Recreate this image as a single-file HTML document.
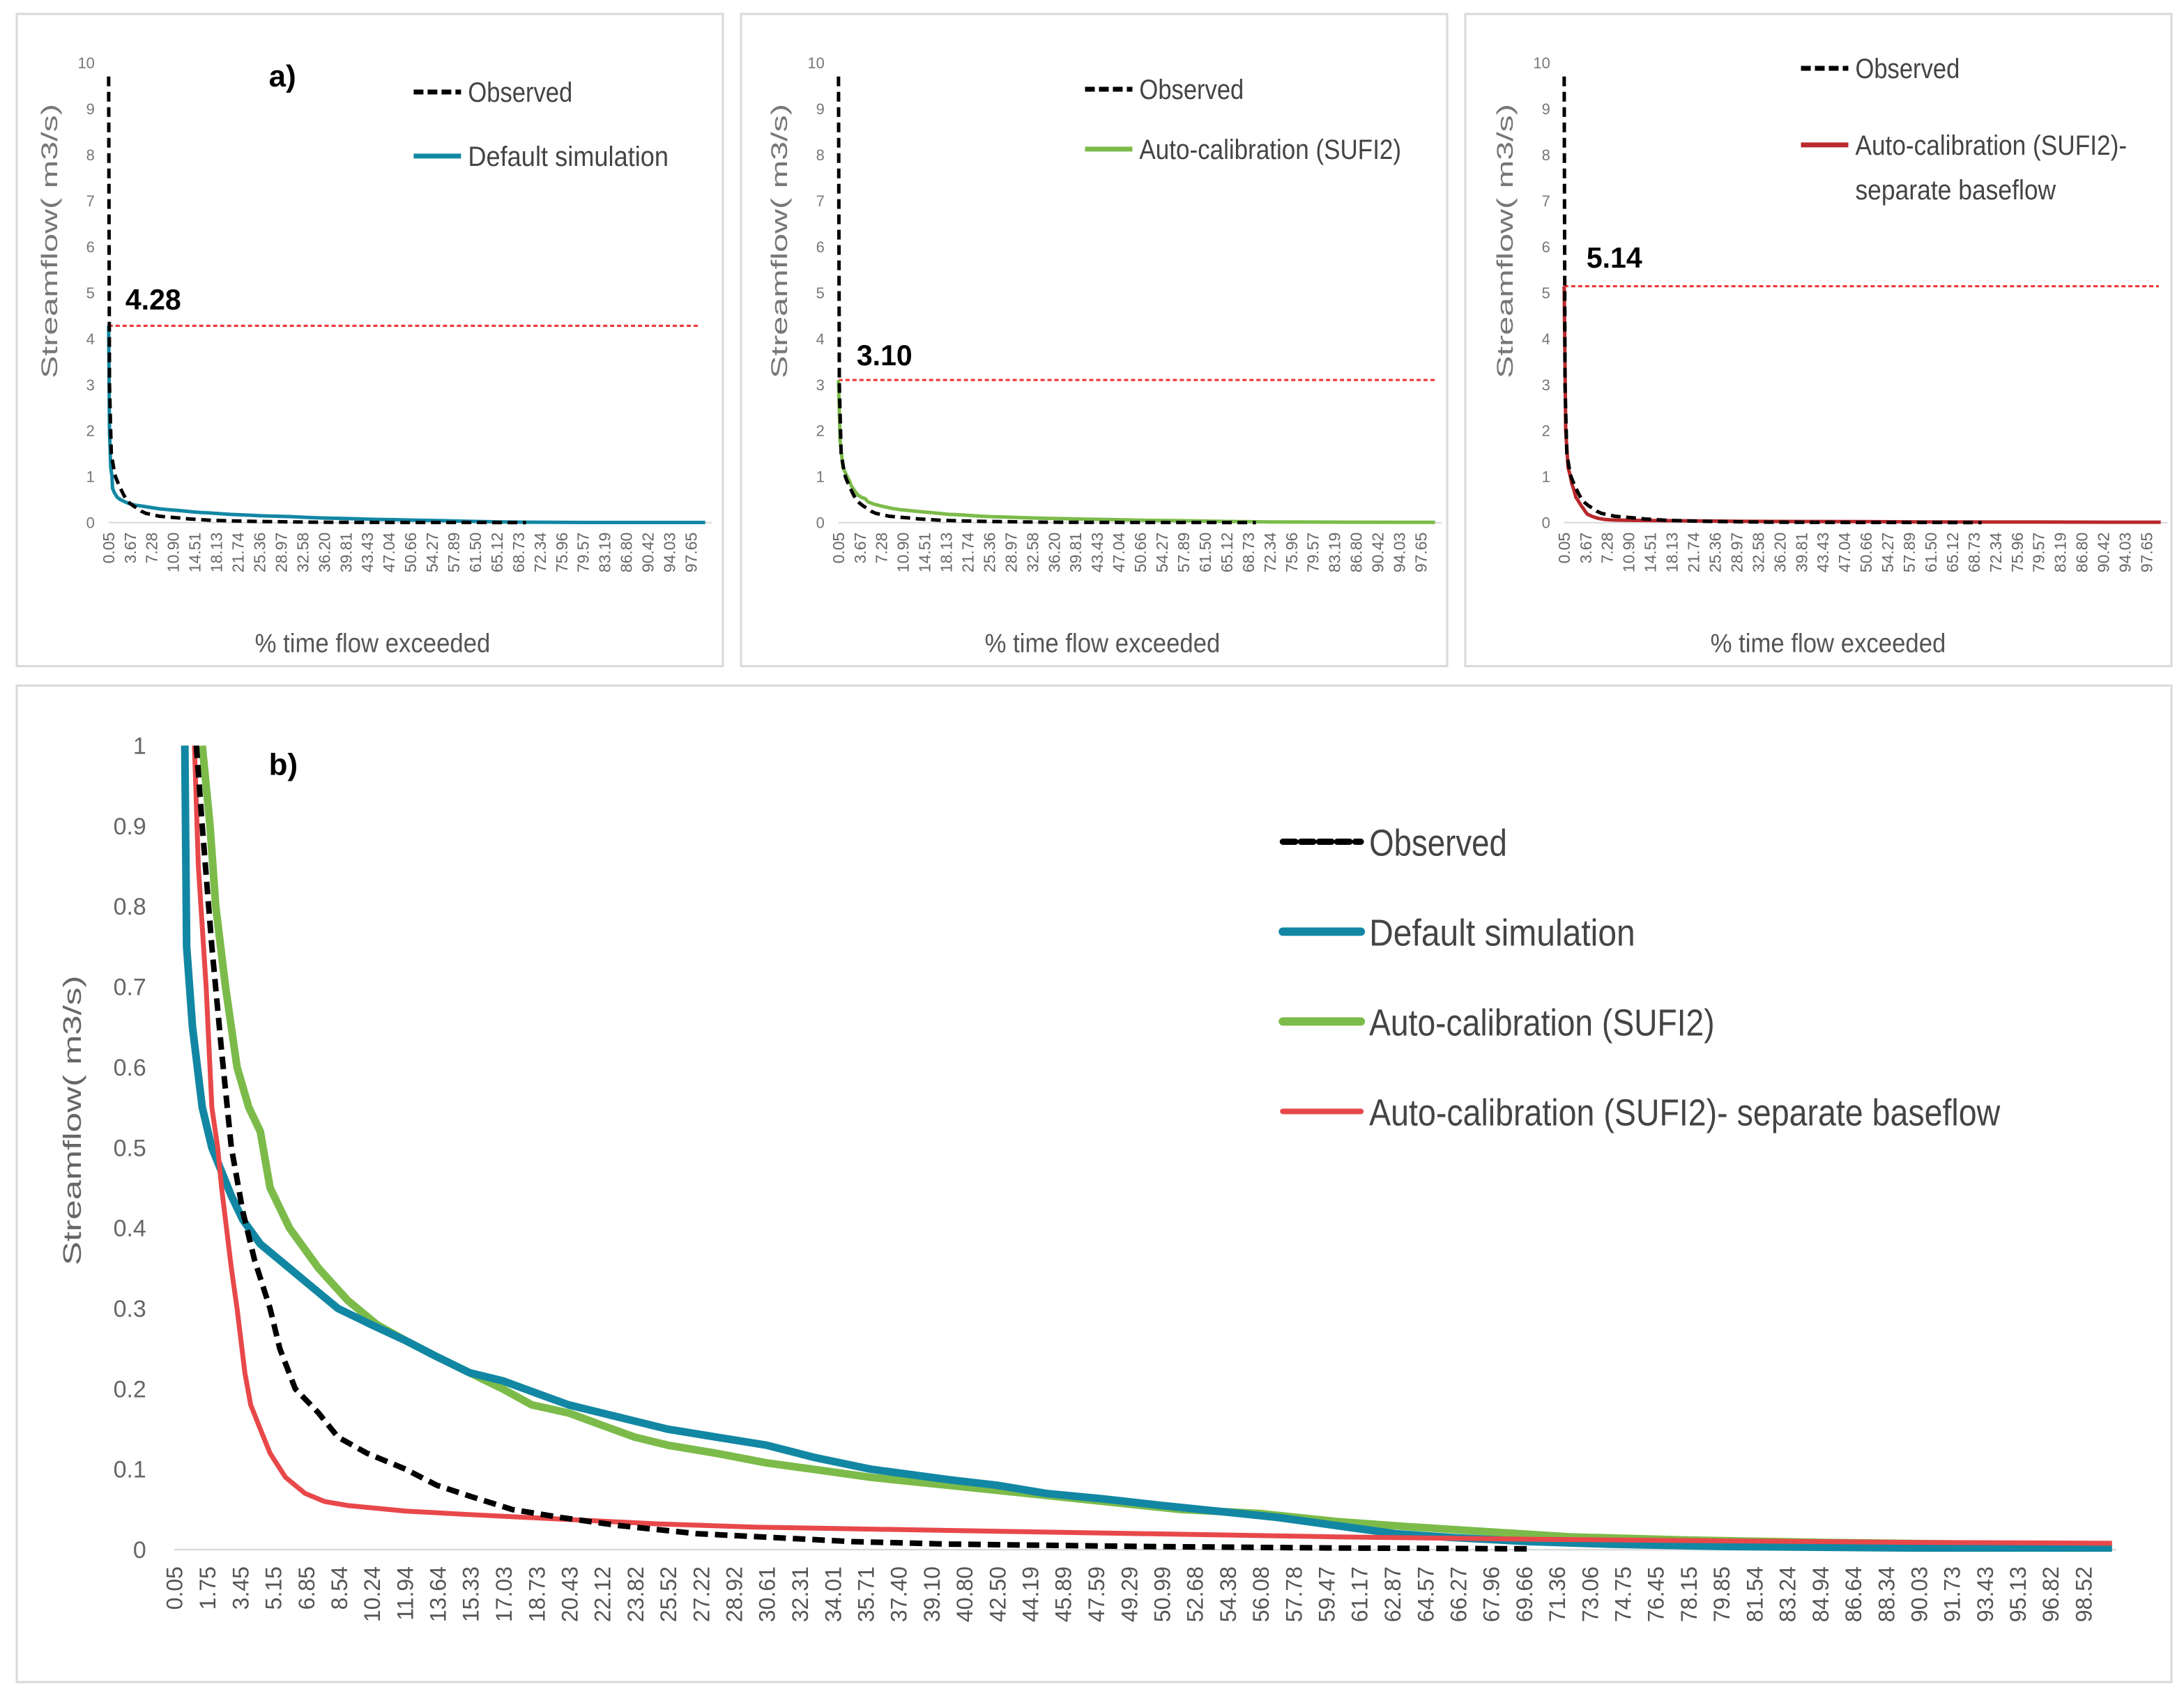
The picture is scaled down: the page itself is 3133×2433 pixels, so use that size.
<!DOCTYPE html>
<html><head><meta charset="utf-8"><style>
html,body{margin:0;padding:0;background:#fff}
svg{display:block}
text{font-family:"Liberation Sans Narrow","Liberation Sans",sans-serif}
</style></head><body>
<svg id="fig" xmlns="http://www.w3.org/2000/svg" width="3133" height="2433" viewBox="0 0 1568 1217" preserveAspectRatio="none">
<rect x="0" y="0" width="1568" height="1217" fill="#fff"/>
<rect x="12" y="10" width="507" height="468" fill="none" stroke="#d9d9d9" stroke-width="1.5"/>
<rect x="532" y="10" width="507" height="468" fill="none" stroke="#d9d9d9" stroke-width="1.5"/>
<rect x="1052" y="10" width="507" height="468" fill="none" stroke="#d9d9d9" stroke-width="1.5"/>
<rect x="12" y="492" width="1547" height="715" fill="none" stroke="#d9d9d9" stroke-width="1.5"/>
<g id="layer"></g>
</svg>
<script>
// ---- data (percent exceeded, flow m3/s) ----
const obsP = [1.2,1.5,2,2.5,3,3.6,4.2,5,5.5,6.3,7.5,8.5,10,12,13.6,15.5,17.5,20,23,27,31,35,40,50,60,70];
const obsQ = [1.0,0.9,0.75,0.62,0.5,0.42,0.36,0.3,0.25,0.2,0.17,0.14,0.12,0.1,0.08,0.065,0.05,0.04,0.03,0.02,0.015,0.01,0.007,0.004,0.002,0.001];
const defP = [0.6,0.7,1,1.5,2,3,3.6,4.5,5.5,7,8.5,10.2,12,13.6,15.3,17,18.7,20.4,22.1,23.8,25.5,28,30.6,33,36,40,42.5,45,48,51,55,57,60,63,66,70,74,80,90,100];
const defQ = [1.0,0.75,0.65,0.55,0.5,0.44,0.41,0.38,0.36,0.33,0.3,0.28,0.26,0.24,0.22,0.21,0.195,0.18,0.17,0.16,0.15,0.14,0.13,0.115,0.1,0.087,0.08,0.07,0.063,0.055,0.045,0.04,0.03,0.02,0.015,0.01,0.007,0.004,0.002,0.002];
const sufP = [1.5,1.9,2.2,2.7,3.3,3.9,4.5,5,6,7.5,9,10.5,12,13.6,15.3,17,18.5,20.4,22.1,23.8,25.5,28,30.6,33,36,40,44,48,52,56,60,64,68,72,78,85,95,100];
const sufQ = [1.0,0.9,0.8,0.7,0.6,0.55,0.52,0.45,0.4,0.35,0.31,0.28,0.26,0.24,0.22,0.2,0.18,0.17,0.155,0.14,0.13,0.12,0.108,0.1,0.09,0.08,0.07,0.06,0.05,0.045,0.035,0.028,0.022,0.016,0.012,0.009,0.006,0.005];
const sepP = [1.1,1.3,1.7,2,2.3,2.5,3,3.3,3.7,4,4.5,5,5.8,6.8,7.8,9,12,15,20,25,30,40,50,60,70,80,90,100];
const sepQ = [1.0,0.85,0.7,0.55,0.5,0.45,0.35,0.3,0.22,0.18,0.15,0.12,0.09,0.07,0.06,0.055,0.048,0.044,0.038,0.032,0.028,0.024,0.02,0.016,0.013,0.011,0.009,0.008];
// high-flow heads for panels a (percent, flow)
const obsHeadP = [0.05,0.2,0.5,1.0];
const obsHeadQ = [9.7,3.0,1.5,1.1];
const defHeadP = [0.05,0.2,0.4];
const defHeadQ = [4.28,2.0,1.2];
const sufHeadP = [0.05,0.3,0.8];
const sufHeadQ = [3.10,1.8,1.2];
const sepHeadP = [0.05,0.3,0.7];
const sepHeadQ = [5.14,2.0,1.2];
const peakVals = [4.28,3.10,5.14];
const ticksA = ["0.05","3.67","7.28","10.90","14.51","18.13","21.74","25.36","28.97","32.58","36.20","39.81","43.43","47.04","50.66","54.27","57.89","61.50","65.12","68.73","72.34","75.96","79.57","83.19","86.80","90.42","94.03","97.65"];
const ticksB = ["0.05","1.75","3.45","5.15","6.85","8.54","10.24","11.94","13.64","15.33","17.03","18.73","20.43","22.12","23.82","25.52","27.22","28.92","30.61","32.31","34.01","35.71","37.40","39.10","40.80","42.50","44.19","45.89","47.59","49.29","50.99","52.68","54.38","56.08","57.78","59.47","61.17","62.87","64.57","66.27","67.96","69.66","71.36","73.06","74.75","76.45","78.15","79.85","81.54","83.24","84.94","86.64","88.34","90.03","91.73","93.43","95.13","96.82","98.52"];
const yTicksA = [0,1,2,3,4,5,6,7,8,9,10];
const yTicksB = ["0","0.1","0.2","0.3","0.4","0.5","0.6","0.7","0.8","0.9","1"];

const NS="http://www.w3.org/2000/svg";
const layer=document.getElementById('layer');
function mk(tag,attrs,parent){const e=document.createElementNS(NS,tag);for(const k in attrs)e.setAttribute(k,attrs[k]);(parent||layer).appendChild(e);return e;}
function txt(s,attrs,parent){const e=mk('text',attrs,parent);e.textContent=s;if(attrs.textLength)e.setAttribute('lengthAdjust','spacingAndGlyphs');return e;}
function pathFrom(P,Q,xf,yf){let d='';for(let i=0;i<P.length;i++){d+=(i?'L':'M')+xf(P[i]).toFixed(1)+' '+yf(Q[i]).toFixed(1);}return d;}

const BLUE='#1287a3',GREEN='#7cbb4a',RED='#e8484a',DRED='#b8282c';
const panels=[
 {x0:78,name:'a1',sim:[defHeadP,defHeadQ,defP,defQ],col:BLUE,peak:peakVals[0],legend:['Default simulation'],lw:[144],lx:297,ly:[66,112],lab:'a)',pk:[90,222],end:503},
 {x0:602,name:'a2',sim:[sufHeadP,sufHeadQ,sufP,sufQ],col:GREEN,peak:peakVals[1],legend:['Auto-calibration (SUFI2)'],lw:[188],lx:779,ly:[64,107],lab:null,pk:[615,262],end:1030},
 {x0:1123,name:'a3',sim:[sepHeadP,sepHeadQ,sepP,sepQ],col:DRED,peak:peakVals[2],legend:['Auto-calibration (SUFI2)-','separate baseflow'],lw:[195,144],lx:1293,ly:[49,104],lab:null,pk:[1139,192],end:1550}
];
panels.forEach(pn=>{
  const g=mk('g',{});
  
  
  const y0=375,ys=33,xs=4.285;
  const xf=p=>pn.x0+(p-0.05)*xs, yf=q=>y0-q*ys;
  mk('line',{x1:pn.x0,y1:y0,x2:xf(100)+5,y2:y0,stroke:'#d9d9d9','stroke-width':1},g);
  yTicksA.forEach(v=>{const t=txt(String(v),{x:pn.x0-10,y:yf(v)+4,'text-anchor':'end','font-size':11,fill:'#777'},g);
    });
  ticksA.forEach((s,i)=>{const x=xf(parseFloat(s))+4;const t=txt(s,{x:x,y:y0+7,'text-anchor':'end','font-size':11.5,fill:'#666',transform:`rotate(-90 ${x} ${y0+7})`},g);
    });
  const yt=txt('Streamflow( m3/s)',{x:0,y:0,'text-anchor':'middle','font-size':16,fill:'#777','font-family':'Liberation Sans, sans-serif',textLength:197,transform:`translate(${pn.x0-37},173) rotate(-90)`},g);
  
  const xt=txt('% time flow exceeded',{x:pn.x0+105,y:468,'font-size':19,fill:'#555',textLength:169},g);
  
  const pl=mk('line',{x1:pn.x0,x2:pn.end,y1:yf(pn.peak),y2:yf(pn.peak),stroke:'#f03030','stroke-width':1.5,'stroke-dasharray':'3 2'},g);
  
  const pk=txt(pn.peak.toFixed(2),{x:pn.pk[0],y:pn.pk[1],'font-size':21,'font-weight':'bold',fill:'#000',textLength:40},g);
  
  const s=mk('path',{d:pathFrom(pn.sim[0].concat(pn.sim[2]),pn.sim[1].concat(pn.sim[3]),xf,yf),fill:'none',stroke:pn.col,'stroke-width':2.5},g);
  
  const o=mk('path',{d:pathFrom(obsHeadP.concat(obsP),obsHeadQ.concat(obsQ),xf,yf),fill:'none',stroke:'#000','stroke-width':2.5,'stroke-dasharray':'7 4'},g);
  
  const l1=mk('line',{x1:pn.lx,x2:pn.lx+34,y1:pn.ly[0],y2:pn.ly[0],stroke:'#000','stroke-width':3.5,'stroke-dasharray':'7 3'},g);
  
  const lt1=txt('Observed',{x:pn.lx+39,y:pn.ly[0]+7,'font-size':20,fill:'#444',textLength:75},g);
  
  const l2=mk('line',{x1:pn.lx,x2:pn.lx+34,y1:pn.ly[1],y2:pn.ly[1],stroke:pn.col,'stroke-width':3.5},g);
  
  pn.legend.forEach((s2,i)=>{const t=txt(s2,{x:pn.lx+39,y:pn.ly[1]+7+i*32,'font-size':20,fill:'#444',textLength:pn.lw[i]},g);
    });
  if(pn.lab){const t=txt(pn.lab,{x:193,y:62,'font-size':22,'font-weight':'bold',fill:'#000'},g);
    }
});

// ---- panel b ----
(function(){
  const g=mk('g',{});
  
  
  const x0=125,y0=1112,yt=535;
  const xf=p=>x0+(p-0.05)*13.92, yf=q=>y0-q*(y0-yt);
  mk('line',{x1:x0,y1:y0,x2:xf(100)+3,y2:y0,stroke:'#d9d9d9','stroke-width':1.2},g);
  yTicksB.forEach(s=>{const t=txt(s,{x:x0-20,y:yf(parseFloat(s))+6,'text-anchor':'end','font-size':17,fill:'#666','font-family':'Liberation Sans, sans-serif'},g);
    });
  ticksB.forEach(s=>{const x=xf(parseFloat(s))+6;const t=txt(s,{x:x,y:y0+12,'text-anchor':'end','font-size':16,fill:'#555','font-family':'Liberation Sans, sans-serif',transform:`rotate(-90 ${x} ${y0+12})`},g);
    });
  const ytl=txt('Streamflow( m3/s)',{x:0,y:0,'text-anchor':'middle','font-size':18,fill:'#666','font-family':'Liberation Sans, sans-serif',textLength:208,transform:`translate(58,804) rotate(-90)`},g);
  
  const lab=txt('b)',{x:193,y:556,'font-size':22,'font-weight':'bold',fill:'#000'},g);
  
  const cp=mk('clipPath',{id:'cb'},g);mk('rect',{x:x0-5,y:yt,width:1420,height:590},cp);
  const series=[[sufP,sufQ,GREEN,5.5,null,'series-auto-calibration'],[defP,defQ,BLUE,5.5,null,'series-default-simulation'],[sepP,sepQ,RED,3.5,null,'series-separate-baseflow'],[obsP,obsQ,'#000',4,'9 5','series-observed']];
  series.forEach(sr=>{const a={d:pathFrom(sr[0],sr[1],xf,yf),fill:'none',stroke:sr[2],'stroke-width':sr[3],'clip-path':'url(#cb)','stroke-linejoin':'round'};if(sr[4])a['stroke-dasharray']=sr[4];
    const p=mk('path',a,g);});
  const leg=[['Observed','#000','9 4',4.5,99],['Default simulation',BLUE,null,6,191],['Auto-calibration (SUFI2)',GREEN,null,6,248],['Auto-calibration (SUFI2)- separate baseflow',RED,null,4,453]];
  leg.forEach((L,i)=>{const y=604+i*64.5;const a={x1:921,x2:977,y1:y,y2:y,stroke:L[1],'stroke-width':L[3],'stroke-linecap':'round'};if(L[2])a['stroke-dasharray']=L[2];
    const ln=mk('line',a,g);
    const t=txt(L[0],{x:983,y:y+10,'font-size':27,fill:'#444',textLength:L[4]},g);});
})();
</script>
</body></html>
